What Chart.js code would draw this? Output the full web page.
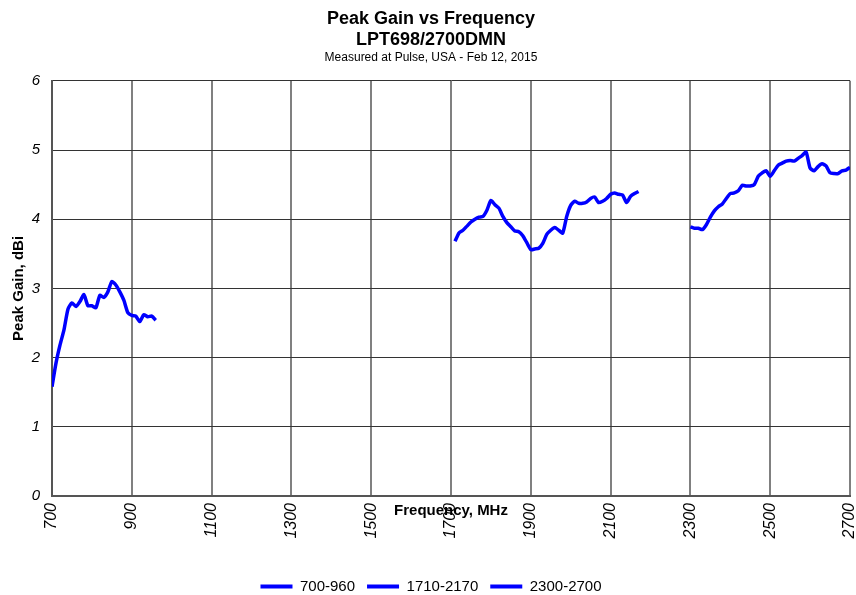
<!DOCTYPE html>
<html>
<head>
<meta charset="utf-8">
<title>Peak Gain vs Frequency</title>
<script src="https://cdn.jsdelivr.net/npm/chart.js@4.4.1/dist/chart.umd.min.js"></script>
<style>
  html, body { margin: 0; padding: 0; background: #fff; }
  #wrap { width: 856px; height: 595px; }
</style>
</head>
<body>
<div id="wrap"><canvas id="grafico"></canvas></div>
<script>
// frequências (MHz) e ganho de pico (dBi)
const freqBaixa = [700, 710, 720, 730, 740, 750, 760, 770, 780, 790, 800, 810, 820, 830,
  840, 850, 860, 870, 880, 890, 900, 910, 920, 930, 940, 950, 960];
const ganhoBaixa = [1.58, 1.92, 2.18, 2.40, 2.70, 2.79, 2.74, 2.81, 2.91, 2.75, 2.75, 2.72, 2.90, 2.87,
  2.95, 3.10, 3.05, 2.95, 2.83, 2.65, 2.61, 2.60, 2.52, 2.62, 2.59, 2.60, 2.54];

const freqMedia = [1710, 1720, 1730, 1740, 1750, 1760, 1770, 1780, 1790, 1800, 1810, 1820, 1830, 1840,
  1850, 1860, 1870, 1880, 1890, 1900, 1910, 1920, 1930, 1940, 1950, 1960, 1970, 1980, 1990, 2000,
  2010, 2020, 2030, 2040, 2050, 2060, 2070, 2080, 2090, 2100, 2110, 2120, 2130, 2140, 2150, 2160, 2170];
const ganhoMedia = [3.68, 3.80, 3.84, 3.90, 3.96, 4.00, 4.03, 4.04, 4.13, 4.27, 4.21, 4.16, 4.04, 3.95,
  3.89, 3.83, 3.82, 3.76, 3.66, 3.56, 3.57, 3.58, 3.65, 3.78, 3.84, 3.88, 3.84, 3.80, 4.04, 4.20,
  4.26, 4.23, 4.23, 4.25, 4.30, 4.32, 4.24, 4.26, 4.30, 4.36, 4.38, 4.36, 4.35, 4.24, 4.33, 4.37, 4.40];

const freqAlta = [2300, 2310, 2320, 2330, 2340, 2350, 2360, 2370, 2380, 2390, 2400, 2410, 2420, 2430,
  2440, 2450, 2460, 2470, 2480, 2490, 2500, 2510, 2520, 2530, 2540, 2550, 2560, 2570, 2580, 2590,
  2600, 2610, 2620, 2630, 2640, 2650, 2660, 2670, 2680, 2690, 2700];
const ganhoAlta = [3.89, 3.87, 3.87, 3.85, 3.92, 4.03, 4.12, 4.18, 4.22, 4.30, 4.37, 4.38, 4.41, 4.49,
  4.48, 4.48, 4.50, 4.62, 4.67, 4.70, 4.62, 4.70, 4.78, 4.81, 4.84, 4.85, 4.84, 4.88, 4.92, 4.97,
  4.74, 4.70, 4.76, 4.80, 4.77, 4.67, 4.66, 4.66, 4.70, 4.71, 4.75];

const nomesSeries = ['700-960', '1710-2170', '2300-2700'];
const ticksX = [700, 900, 1100, 1300, 1500, 1700, 1900, 2100, 2300, 2500, 2700];
const ticksY = [0, 1, 2, 3, 4, 5, 6];

const FONTE = "'Liberation Sans', Arial, sans-serif";
const AZUL = '#0000ff';
const BASE_AREA = 496;     // borda inferior da área do gráfico
const PAD_INFERIOR = -9;

function pontos(xs, ys) { return xs.map((x, i) => ({ x, y: ys[i] })); }

function serie(nome, xs, ys) {
  return { label: nome, data: pontos(xs, ys), borderColor: AZUL, backgroundColor: AZUL,
    borderWidth: 3.5, pointRadius: 0, tension: 0.2, fill: false };
}

// título do eixo X desenhado sobre os rótulos, como no original
const tituloEixoX = {
  id: 'tituloEixoX',
  afterDraw(chart) {
    const { ctx, chartArea } = chart;
    ctx.save();
    ctx.font = `bold 15px ${FONTE}`;
    ctx.fillStyle = '#000';
    ctx.textAlign = 'center';
    ctx.textBaseline = 'middle';
    ctx.fillText('Frequency, MHz', (chartArea.left + chartArea.right) / 2, 511);
    ctx.restore();
  }
};

const ctx = document.getElementById('grafico').getContext('2d');
const grafico = new Chart(ctx, {
  type: 'line',
  data: {
    datasets: [
      serie(nomesSeries[0], freqBaixa, ganhoBaixa),
      serie(nomesSeries[1], freqMedia, ganhoMedia),
      serie(nomesSeries[2], freqAlta, ganhoAlta)
    ]
  },
  options: {
    responsive: true, maintainAspectRatio: false, animation: false,
    layout: { padding: { left: 6, right: 0, top: 0, bottom: PAD_INFERIOR } },
    plugins: {
      title: {
        display: true, text: ['Peak Gain vs Frequency', 'LPT698/2700DMN'], color: '#000',
        font: { family: FONTE, size: 18, weight: 'bold', lineHeight: 1.17 },
        padding: { top: 8.5, bottom: 0 }
      },
      subtitle: {
        display: true, text: 'Measured at Pulse, USA - Feb 12, 2015', color: '#000',
        font: { family: FONTE, size: 12, lineHeight: 1.2 },
        padding: { top: 0, bottom: 15.8 }
      },
      legend: {
        position: 'bottom',
        labels: {
          color: '#000', font: { family: FONTE, size: 15 }, boxWidth: 32, boxHeight: 4, padding: 12,
          generateLabels(chart) {
            const itens = Chart.defaults.plugins.legend.labels.generateLabels(chart);
            itens.forEach(it => { it.lineWidth = 0; it.fillStyle = AZUL; });
            return itens;
          }
        }
      },
      tooltip: { enabled: false }
    },
    scales: {
      x: {
        type: 'linear', min: ticksX[0], max: ticksX[ticksX.length - 1],
        afterBuildTicks: s => { s.ticks = ticksX.map(v => ({ value: v })); },
        afterFit: s => {
          const lg = s.chart.legend;
          s.height = s.chart.height - BASE_AREA - (lg ? lg.height : 0) - PAD_INFERIOR;
          s.paddingLeft = 0; s.paddingRight = 6;
        },
        ticks: {
          autoSkip: false, minRotation: 90, maxRotation: 90, padding: 7, color: '#000',
          font: { family: FONTE, size: 16, style: 'italic' },
          callback: v => String(v)
        },
        grid: { color: '#808080', lineWidth: 2, drawTicks: false },
        border: { color: '#555', width: 2 }
      },
      y: {
        min: ticksY[0], max: ticksY[ticksY.length - 1],
        afterBuildTicks: s => { s.ticks = ticksY.map(v => ({ value: v })); },
        afterFit: s => { s.width = 46; s.paddingTop = 0; s.paddingBottom = 0; },
        ticks: { padding: 12, color: '#000', font: { family: FONTE, size: 15, style: 'italic' },
          callback: v => String(v) },
        grid: { color: '#333', lineWidth: 1, drawTicks: false },
        border: { color: '#555', width: 2 },
        title: {
          display: true, text: 'Peak Gain, dBi', color: '#000',
          font: { family: FONTE, size: 15, weight: 'bold', lineHeight: 1.2 },
          padding: { top: 4, bottom: 0 }
        }
      }
    }
  },
  plugins: [tituloEixoX]
});
</script>
</body>
</html>
